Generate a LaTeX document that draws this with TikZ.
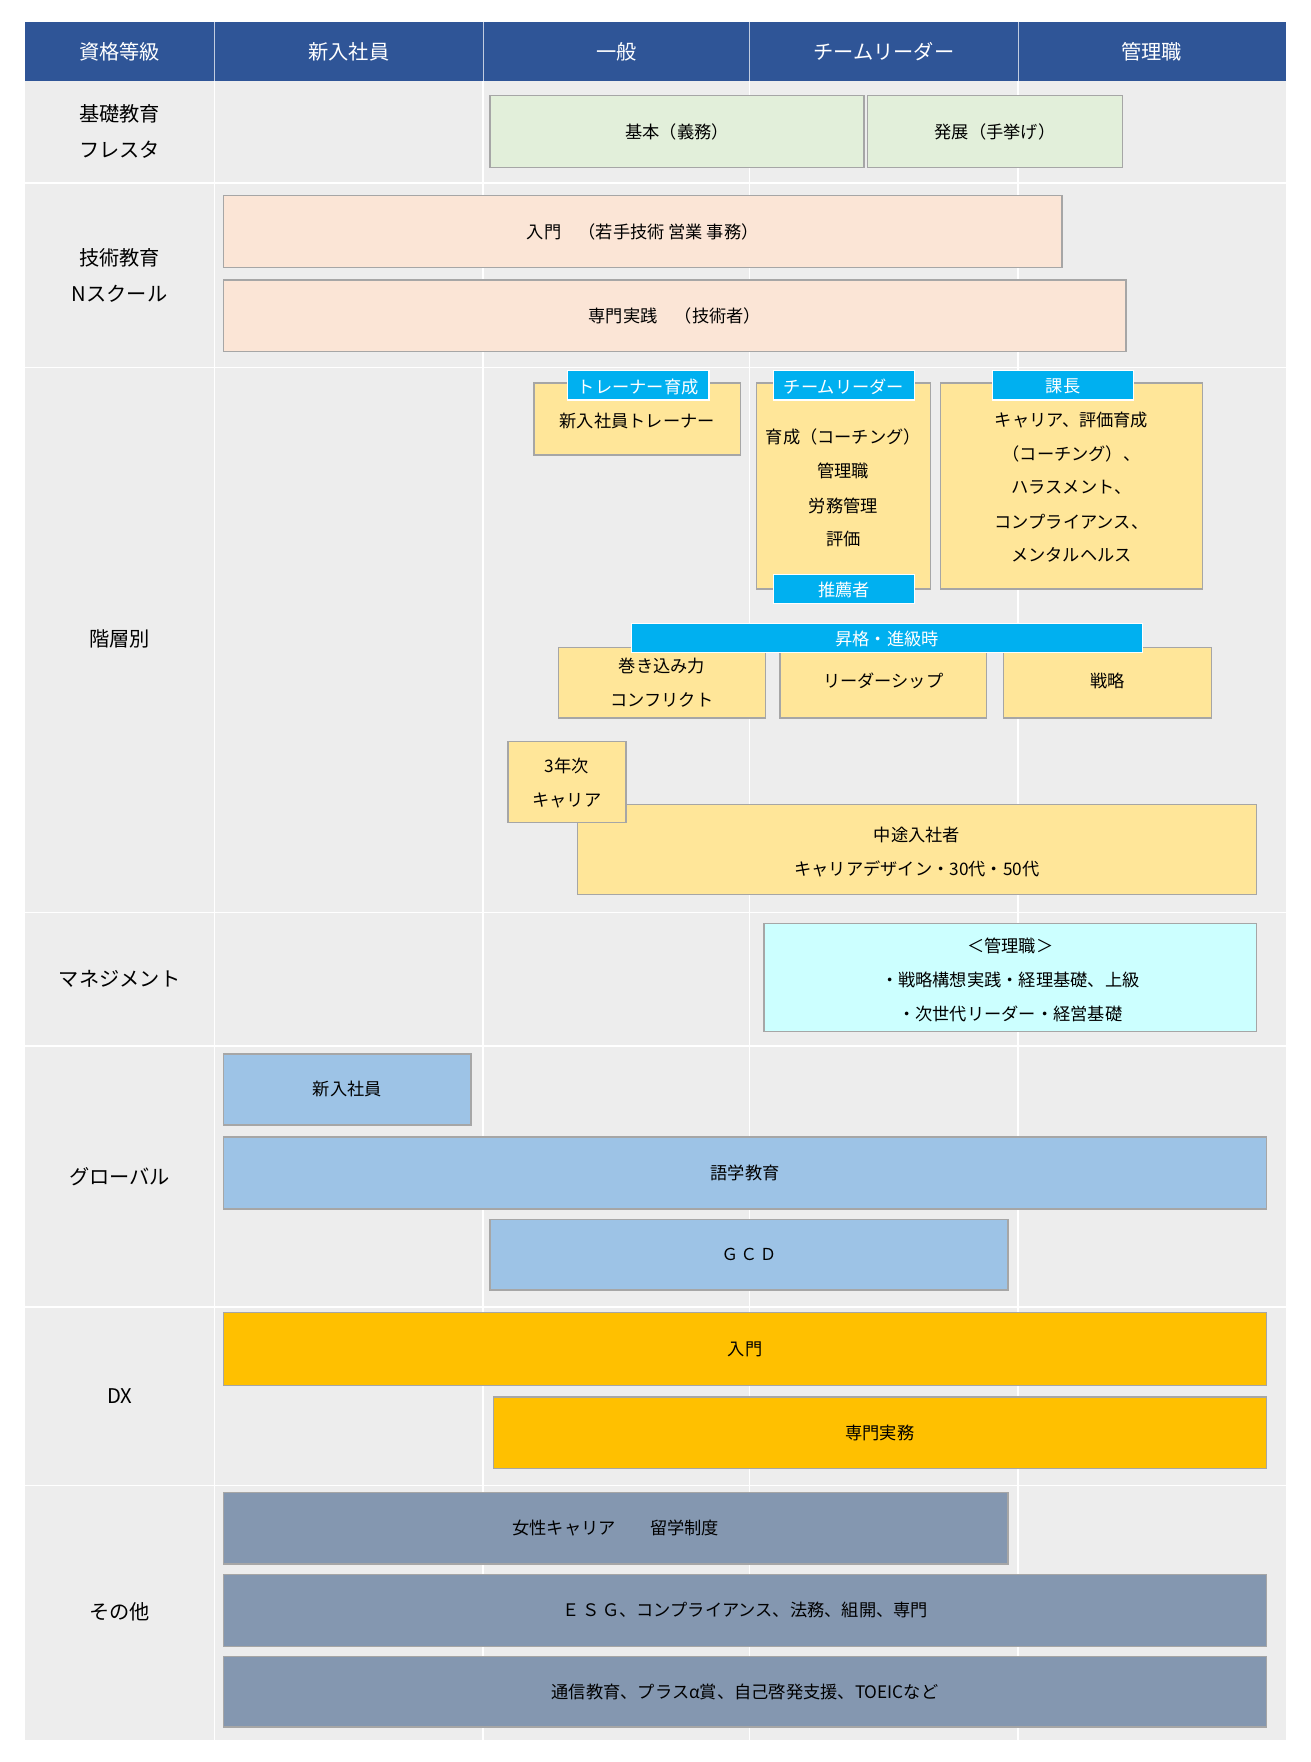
\documentclass[tikz,border=0pt]{standalone}
\usepackage{fontspec}
\setmainfont{Noto Sans CJK JP}
\begin{document}
\begin{tikzpicture}[x=0.75pt,y=-0.75pt,
 bx/.style={draw=black!35,line width=1pt},
 tag/.style={fill=cyan!60!blue!70,fill=cyanT,draw=white,line width=0.8pt},
 t/.style={font=\fontsize{11.5}{13}\selectfont,inner sep=0pt},
 lab/.style={font=\fontsize{13.5}{15}\selectfont,inner sep=0pt},
 tw/.style={t,text=white}]
\definecolor{hdr}{HTML}{2F5597}\definecolor{bg}{HTML}{EDEDED}
\definecolor{grn}{HTML}{E2EFDA}\definecolor{pch}{HTML}{FBE5D6}
\definecolor{yel}{HTML}{FFE699}\definecolor{cyanT}{HTML}{00B0F0}
\definecolor{lc}{HTML}{CCFFFF}\definecolor{blu}{HTML}{9DC3E6}
\definecolor{org}{HTML}{FFC000}\definecolor{slt}{HTML}{8497B0}
\useasboundingbox (0,0) rectangle (1166,1568);
\fill[white] (0,0) rectangle (1166,1568);
\fill[bg] (22,72) rectangle (1144,1548);
\foreach \x in {191,430,667,906} \draw[white,line width=1pt] (\x,72)--(\x,1548);
\foreach \y in {163,327,812,931,1163,1322} \draw[white,line width=1.2pt] (22,\y)--(1144,\y);
\fill[hdr] (22,20) rectangle (1144,72);
\foreach \x in {191,430,667,906} \draw[white!70!hdr,line width=0.8pt] (\x,20)--(\x,72);
\foreach \n/\x/\s in {h1/106.5/資格等級,h2/310.5/新入社員,h3/548.5/一般,h4/786.5/チームリーダー,h5/1025/管理職}
 \node[lab,text=white] (\n) at (\x,46) {\s};
\node[lab,align=center,font=\fontsize{13.5}{24}\selectfont] (r1) at (106.5,117) {基礎教育\\フレスタ};
\node[lab,align=center,font=\fontsize{13.5}{24}\selectfont] (r2) at (106.5,245) {技術教育\\Nスクール};
\node[lab] (r3) at (106.5,569) {階層別};
\node[lab] (r4) at (106.5,871) {マネジメント};
\node[lab] (r5) at (106.5,1047) {グローバル};
\node[lab] (r6) at (106.5,1242) {DX};
\node[lab] (r7) at (106.5,1434) {その他};
% boxes
\newcommand\bxx[7]{\draw[bx,fill=#6] (#1,#2) rectangle (#3,#4); \node[t,#7] at ({(#1+#3)/2},{(#2+#4)/2}) {#5};}
\bxx{436}{85}{769}{149}{基本（義務）}{grn}{}
\bxx{772}{85}{999}{149}{発展（手挙げ）}{grn}{}
\bxx{199}{174}{945}{238}{入門\quad（若手技術 営業 事務）}{pch}{}
\bxx{199}{249}{1002}{313}{専門実践\quad（技術者）}{pch}{}
\bxx{475}{341}{659}{405}{}{yel}{}
\node[t] (tr) at (567,375) {新入社員トレーナー};
\bxx{673}{341}{828}{524}{}{yel}{}
\foreach \y/\s in {389/育成（コーチング）,419/管理職,450/労務管理,480/評価} \node[t] at (750.5,\y) {\s};
\bxx{837}{341}{1070}{524}{}{yel}{}
\foreach \y/\s in {374/キャリア、評価育成,404/（コーチング）、,434/ハラスメント、,464/コンプライアンス、,494/メンタルヘルス} \node[t] at (953.5,\y) {\s};
\draw[tag] (505,330) rectangle (631,356); \node[tw] at (568,344) {トレーナー育成};
\draw[tag] (688,330) rectangle (814,356); \node[tw] at (751,344) {チームリーダー};
\draw[tag] (883,330) rectangle (1009,356); \node[tw] at (946,344) {課長};
\draw[tag] (688,511) rectangle (814,537); \node[tw] at (751,525) {推薦者};
\bxx{497}{576}{681}{639}{}{yel}{}
\node[t] at (589,593) {巻き込み力}; \node[t] at (589,623) {コンフリクト};
\bxx{694}{576}{878}{639}{リーダーシップ}{yel}{yshift=1pt}
\bxx{893}{576}{1078}{639}{戦略}{yel}{yshift=1pt}
\draw[tag] (562,555) rectangle (1017,581); \node[tw] at (789.5,569) {昇格・進級時};
\bxx{514}{716}{1118}{796}{}{yel}{}
\node[t] at (816,743) {中途入社者}; \node[t] at (816,773) {キャリアデザイン・30代・50代};
\bxx{452}{660}{557}{732}{}{yel}{}
\node[t] at (504.5,682) {3年次}; \node[t] at (504.5,712) {キャリア};
\bxx{680}{822}{1118}{918}{}{lc}{}
\node[t] at (899,842) {＜管理職＞};
\node[t] at (899,872) {・戦略構想実践・経理基礎、上級};
\node[t] at (899,902) {・次世代リーダー・経営基礎};
\bxx{199}{938}{419}{1001}{新入社員}{blu}{}
\bxx{199}{1012}{1127}{1076}{語学教育}{blu}{}
\bxx{436}{1085}{897}{1148}{Ｇ\,Ｃ\,Ｄ}{blu}{font=\fontsize{11}{13}\selectfont}
\bxx{199}{1168}{1127}{1233}{入門}{org}{}
\bxx{439}{1243}{1127}{1307}{専門実務}{org}{}
\bxx{199}{1328}{897}{1392}{女性キャリア\qquad 留学制度}{slt}{}
\bxx{199}{1401}{1127}{1465}{Ｅ\,Ｓ\,Ｇ、コンプライアンス、法務、組開、専門}{slt}{}
\bxx{199}{1474}{1127}{1537}{通信教育、プラスα賞、自己啓発支援、TOEICなど}{slt}{}
\end{tikzpicture}
\end{document}
